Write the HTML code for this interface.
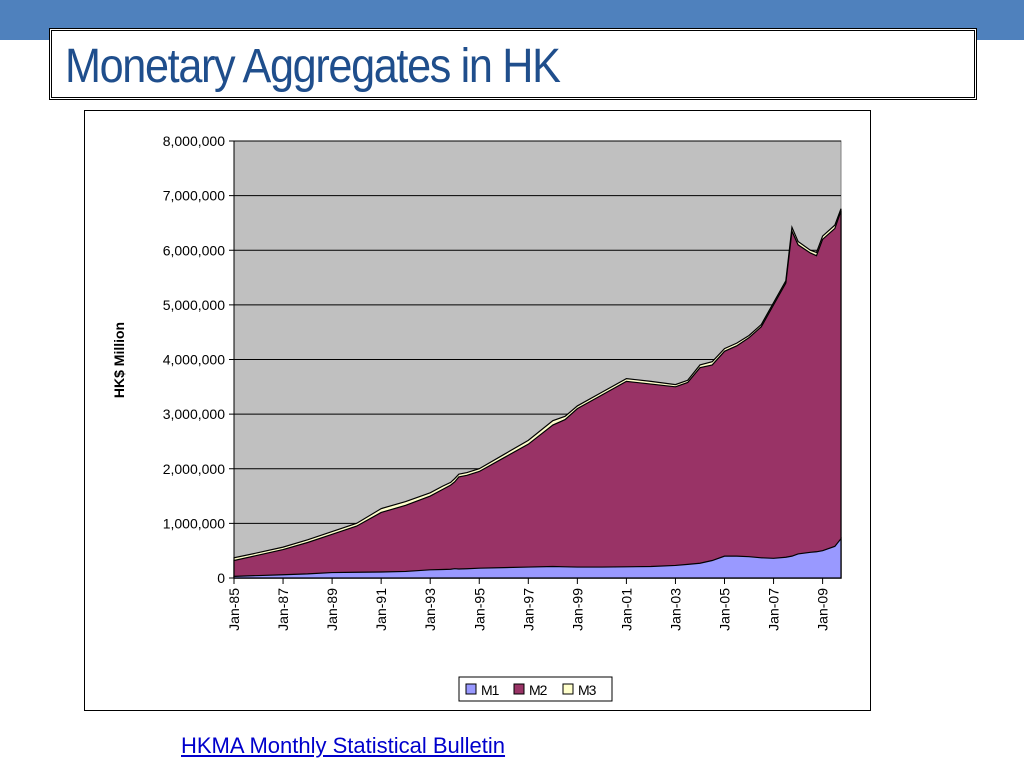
<!DOCTYPE html>
<html><head><meta charset="utf-8"><style>
body{margin:0;width:1024px;height:768px;background:#fff;position:relative;overflow:hidden;font-family:"Liberation Sans",sans-serif}
#topbar{position:absolute;left:0;top:0;width:1024px;height:40px;background:#4f81bd}
#titlebox{position:absolute;left:49px;top:28px;width:922px;height:66px;border:3px double #000;background:#fff}
#title{position:absolute;left:13px;top:8px;font-size:48px;color:#1f4e8c;letter-spacing:-1.5px;white-space:nowrap;transform:scaleX(0.9);transform-origin:left}
#frame{position:absolute;left:84px;top:110px;width:785px;height:599px;border:1px solid #000}
#link{position:absolute;left:181px;top:733px;font-size:22px;color:#0000cc;text-decoration:underline}
</style></head><body>
<div id="topbar"></div>
<div id="titlebox"><div id="title">Monetary Aggregates in HK</div></div>
<div id="frame"></div>
<svg id="chart" width="1024" height="768" style="position:absolute;left:0;top:0"></svg>
<a id="link">HKMA Monthly Statistical Bulletin</a>
<script>
// month index from Jan-85
const months=[0,12,24,36,48,60,72,84,96,102,106,108,110,114,120,132,144,156,162,168,180,192,204,216,222,228,234,240,246,252,258,264,270,273,276,282,285,288,294,297];
const m1=[30,45,60,75,100,105,110,120,150,155,160,170,165,170,180,190,200,210,205,200,200,205,210,230,250,270,320,400,400,390,370,360,380,400,440,470,480,500,580,720];
const m2=[320,420,520,650,800,950,1200,1330,1500,1620,1700,1760,1850,1880,1950,2200,2450,2800,2900,3100,3350,3600,3550,3500,3580,3850,3900,4150,4250,4400,4600,5000,5400,6350,6100,5950,5900,6200,6400,6720];
const m3=[370,465,565,700,850,1000,1270,1400,1560,1680,1750,1820,1900,1930,2000,2260,2520,2880,2960,3150,3400,3650,3600,3540,3620,3900,3960,4200,4300,4440,4640,5040,5440,6420,6160,6000,5960,6260,6460,6760];
const yTicks=[0,1000000,2000000,3000000,4000000,5000000,6000000,7000000,8000000];
const xTickLabels=["Jan-85","Jan-87","Jan-89","Jan-91","Jan-93","Jan-95","Jan-97","Jan-99","Jan-01","Jan-03","Jan-05","Jan-07","Jan-09"];
const NS="http://www.w3.org/2000/svg",svg=document.getElementById('chart');
const X0=234,X1=841,Y0=578,Y1=141;
const xs=m=>X0+m*(X1-X0)/297;
const ys=v=>Y0-v*(Y0-Y1)/8000000;
function el(t,a,p){const e=document.createElementNS(NS,t);for(const k in a)e.setAttribute(k,a[k]);(p||svg).appendChild(e);return e;}
const bg=el('rect',{x:X0,y:Y1,width:X1-X0,height:Y0-Y1,fill:'#c0c0c0',stroke:'#808080'});

yTicks.forEach(v=>{const g=el('line',{x1:X0-5,x2:X1,y1:ys(v),y2:ys(v),stroke:'#000','stroke-width':1});

const t=el('text',{x:X0-9,y:ys(v)+5,'text-anchor':'end','font-size':14,fill:'#000'});t.textContent=v.toLocaleString('en-US');
});
function area(vals,fill,name){let d='M'+xs(months[0])+','+ys(0);months.forEach((m,i)=>d+='L'+xs(m)+','+ys(vals[i]*1000));d+='L'+xs(months[months.length-1])+','+ys(0)+'Z';
const p=el('path',{d:d,fill:fill,stroke:'#000','stroke-width':1.2});}
area(m3,'#ffffcc','area-m3');area(m2,'#993366','area-m2');area(m1,'#9999ff','area-m1');
el('line',{x1:X0,x2:X1,y1:Y0,y2:Y0,stroke:'#000'});el('line',{x1:X0,x2:X0,y1:Y1,y2:Y0,stroke:'#000'});
xTickLabels.forEach((l,i)=>{const x=xs(i*24);el('line',{x1:x,x2:x,y1:Y0,y2:Y0+6,stroke:'#000'});
const t=el('text',{x:0,y:0,transform:`translate(${x+5},${Y0+10}) rotate(-90)`,'text-anchor':'end','font-size':14,fill:'#000'});t.textContent=l;
});
const yt=el('text',{x:0,y:0,transform:'translate(124,360) rotate(-90)','text-anchor':'middle','font-size':14,'font-weight':'bold'});yt.textContent='HK$ Million';

const lg=el('g',{});
el('rect',{x:459,y:677,width:153,height:24,fill:'#fff',stroke:'#000'},lg);
[['M1','#9999ff',466],['M2','#993366',514],['M3','#ffffcc',563]].forEach(([n,c,x])=>{
const r=el('rect',{x:x,y:684,width:10,height:10,fill:c,stroke:'#000'},lg);
const t=el('text',{x:x+15,y:695,'font-size':14,'letter-spacing':-1},lg);t.textContent=n;});
</script>
</body></html>
